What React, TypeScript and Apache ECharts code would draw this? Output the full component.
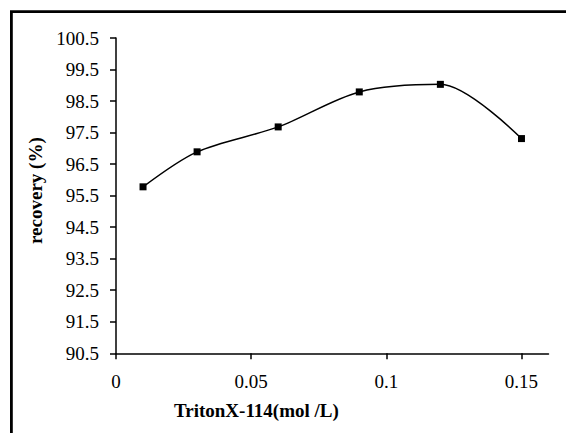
import React, { useEffect, useRef } from "react";
import * as echarts from "echarts";

const concentrations = [0.01, 0.03, 0.06, 0.09, 0.12, 0.15];
const recovery = [95.78, 96.89, 97.68, 98.79, 99.03, 97.31];
const xTicks = [0, 0.05, 0.1, 0.15];
const yTicks = [90.5, 91.5, 92.5, 93.5, 94.5, 95.5, 96.5, 97.5, 98.5, 99.5, 100.5];
const xTitle = "TritonX-114(mol /L)";
const yTitle = "recovery (%)";

const FONT = "'Liberation Serif', 'Times New Roman', serif";

export default function App() {
  const ref = useRef<HTMLDivElement>(null);
  useEffect(() => {
    if (!ref.current) return;
    const chart = echarts.init(ref.current, undefined, { renderer: "svg" });
    chart.setOption({
      animation: false,
      backgroundColor: "#ffffff",
      textStyle: { fontFamily: FONT, color: "#000" },
      grid: { left: 116, top: 38, right: 17.5, bottom: 79.7, containLabel: false },
      xAxis: {
        type: "value",
        min: 0,
        max: 0.16,
        splitLine: { show: false },
        axisLine: { show: true, onZero: false, lineStyle: { color: "#000", width: 1.5 } },
        axisTick: { show: true, length: 6, lineStyle: { color: "#000", width: 1.5 }, customValues: xTicks },
        axisLabel: {
          customValues: xTicks,
          margin: 19,
          fontFamily: FONT,
          fontSize: 19,
          color: "#000",
          formatter: (v: number) => String(v),
        },
      },
      yAxis: {
        type: "value",
        min: 90.5,
        max: 100.5,
        splitLine: { show: false },
        name: yTitle,
        nameLocation: "middle",
        nameGap: 68,
        nameTextStyle: { fontFamily: FONT, fontSize: 19, fontWeight: "bold", color: "#000", padding: [0, 0, 0, 10] },
        axisLine: { show: true, onZero: false, lineStyle: { color: "#000", width: 1.5 } },
        axisTick: { show: true, length: 6, lineStyle: { color: "#000", width: 1.5 }, customValues: yTicks },
        axisLabel: {
          customValues: yTicks,
          margin: 17,
          fontFamily: FONT,
          fontSize: 19,
          color: "#000",
          formatter: (v: number) => v.toFixed(1),
        },
      },
      graphic: [
        {
          type: "rect",
          shape: { x: 11.4, y: 11.7, width: 700, height: 600 },
          style: { fill: "none", stroke: "#000", lineWidth: 2.8 },
          silent: true,
        },
        {
          type: "text",
          left: 174,
          top: 401,
          style: { text: xTitle, font: `bold 19px ${FONT}`, fill: "#000" },
        },
      ],
      series: [
        {
          type: "line",
          data: concentrations.map((c, i) => [c, recovery[i]]),
          smooth: 0.3,
          symbol: "rect",
          symbolSize: 7,
          itemStyle: { color: "#000" },
          lineStyle: { color: "#000", width: 1.5 },
        },
      ],
    });
    return () => chart.dispose();
  }, []);
  return (
    <div
      ref={ref}
      style={{ position: "absolute", left: 0, top: 0, width: 566, height: 433 }}
    />
  );
}
